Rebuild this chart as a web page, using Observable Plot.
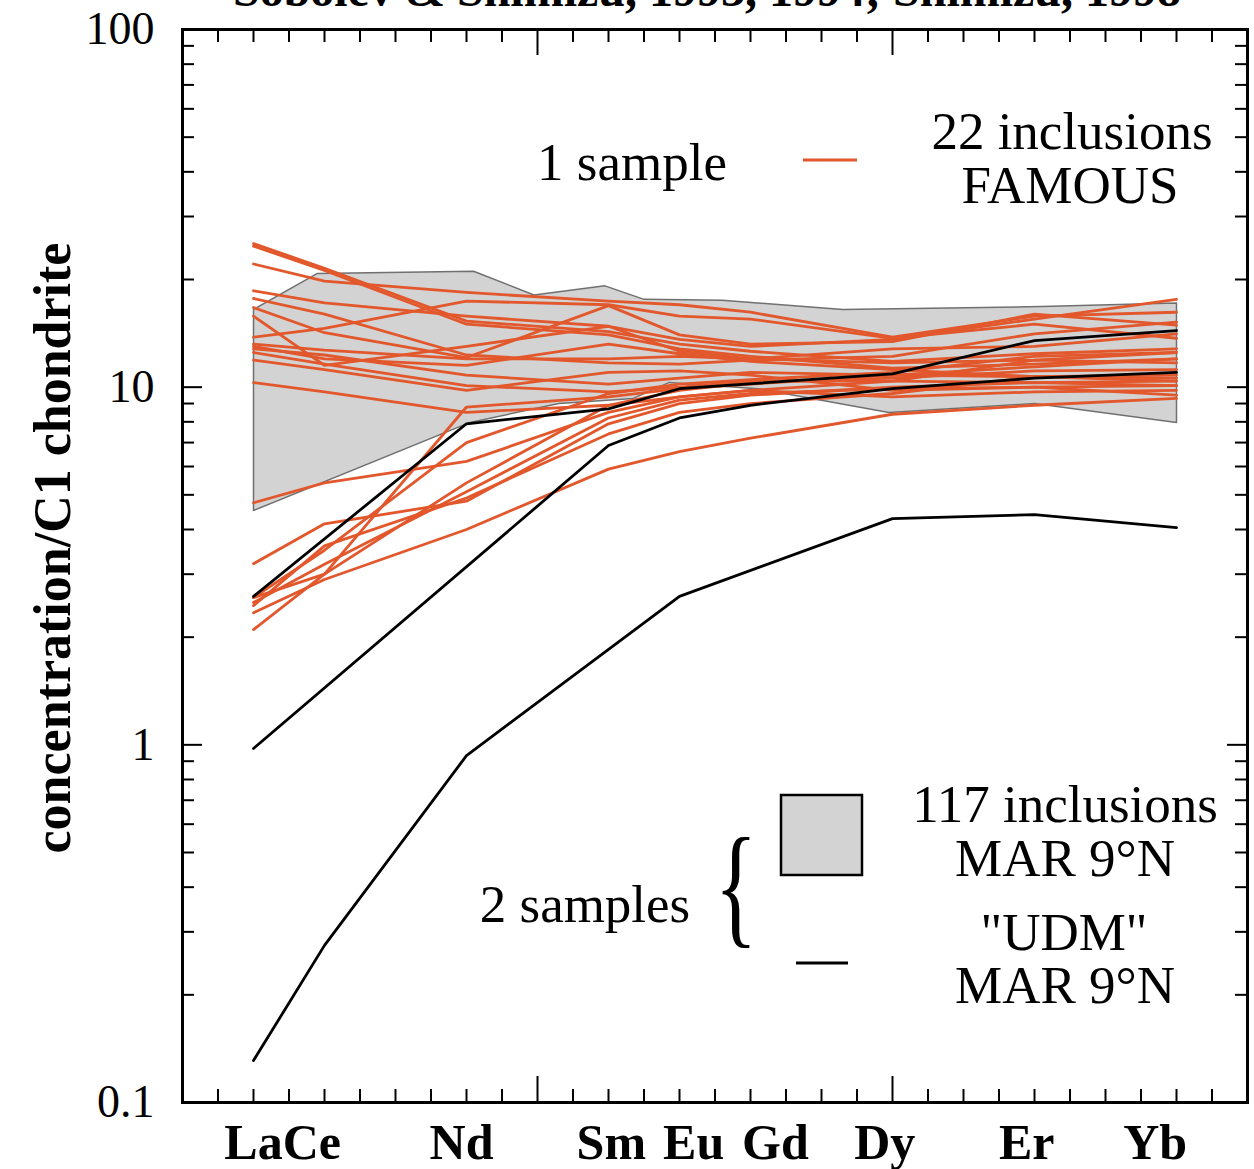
<!DOCTYPE html>
<html><head><meta charset="utf-8">
<script src="https://cdn.jsdelivr.net/npm/d3@7"></script>
<script src="https://cdn.jsdelivr.net/npm/@observablehq/plot@0.6"></script>
<style>
body{margin:0;background:#fff;}
#chart{position:relative;width:1254px;height:1169px;overflow:hidden;}
#chart svg{display:block;}
</style></head><body><div id="chart"></div>
<script>
// ---------- data ----------
const elements = ["La","Ce","Nd","Sm","Eu","Gd","Dy","Er","Yb"];
const atomicNumber = [57,58,60,62,63,64,66,68,70];

// FAMOUS melt inclusions (22), values at La..Yb
const famous = [
  [25.2, 21.5, 15.3, 14.3, 13.2, 12.6, 11.8, 12.4, 12.8],
  [24.8, 21.2, 15.0, 14.0, 12.8, 12.2, 11.3, 11.6, 12.0],
  [22.1, 19.8, 18.4, 17.4, 17.0, 16.2, 13.8, 15.8, 16.2],
  [18.6, 17.2, 15.8, 14.8, 13.6, 13.0, 13.6, 15.5, 17.6],
  [17.7, 16.0, 12.3, 11.7, 11.6, 11.9, 12.2, 14.1, 15.2],
  [16.7, 14.2, 12.1, 16.9, 14.0, 13.2, 13.4, 16.0, 14.9],
  [15.8, 11.5, 13.0, 14.8, 12.6, 12.0, 12.8, 13.0, 14.1],
  [13.8, 14.6, 17.4, 17.0, 15.8, 15.5, 13.7, 15.0, 13.7],
  [13.2, 12.7, 12.0, 12.0, 12.2, 12.0, 11.7, 11.9, 12.5],
  [13.0, 12.0, 11.5, 13.2, 12.4, 11.8, 11.2, 10.7, 10.8],
  [12.8, 12.3, 10.8, 10.2, 10.6, 11.0, 10.8, 11.4, 12.0],
  [12.5, 11.6, 10.1, 9.7, 10.0, 10.4, 10.4, 10.3, 10.4],
  [11.9, 11.2, 9.8, 11.0, 11.1, 10.8, 9.8, 10.0, 10.1],
  [10.3, 9.7, 8.5, 8.9, 9.4, 9.8, 9.4, 9.7, 9.8],
  [4.75, 5.4, 6.2, 8.5, 9.4, 9.8, 10.4, 11.9, 11.7],
  [3.21, 4.15, 4.8, 7.9, 9.0, 9.5, 10.0, 10.3, 10.1],
  [2.58, 3.5, 7.0, 9.6, 10.2, 10.5, 11.0, 12.2, 12.5],
  [2.58, 3.0, 5.4, 8.9, 9.8, 10.3, 10.6, 11.1, 11.2],
  [2.5, 3.2, 5.1, 8.2, 9.2, 9.6, 9.9, 10.0, 9.5],
  [2.45, 3.6, 4.9, 7.4, 8.5, 9.0, 9.6, 10.7, 10.6],
  [2.34, 2.9, 4.0, 5.9, 6.6, 7.2, 8.4, 8.9, 9.3],
  [2.10, 3.0, 8.8, 9.4, 9.9, 10.2, 10.8, 10.7, 10.4]
];

// "UDM" MAR 9°N (black lines); null = no vertex at that element
const udm = [
  [2.6, null, 7.9, 8.7, 9.9, null, 10.9, 13.5, 14.4],
  [0.977, null, null, 6.87, 8.2, 8.9, 9.9, 10.6, 11.0],
  [0.131, 0.275, 0.933, null, 2.6, null, 4.29, 4.40, 4.05]
];

// 117 inclusions MAR 9°N envelope
const marUpperX = [57, 57.9, 60.1, 60.95, 61.95, 62.5, 63.6, 65.3, 68.1, 70];
const marUpperY = [16.5, 20.8, 21.1, 18.1, 19.2, 17.6, 17.5, 16.5, 16.8, 17.2];
const marLowerX = [57, 60.05, 61.3, 62.35, 62.85, 64.1, 65.95, 68, 70];
const marLowerY = [4.52, 7.97, 9.0, 9.3, 10.3, 9.9, 8.5, 9.0, 7.97];

// axes
const yTickValues = [100, 10, 1, 0.1];
const yTickLabels = ["100", "10", "1", "0.1"];
const xTickLabels = ["LaCe", "Nd", "Sm", "Eu", "Gd", "Dy", "Er", "Yb"];
const xTickLabelPos = [57.41, 59.93, 62.04, 63.2, 64.35, 65.89, 67.89, 69.7];
const xMajorTicks = [61, 66];
const xMinorTicks = d3.range(56.5, 71, 0.5).filter(v => !xMajorTicks.includes(v));
const yMajorTicks = [1, 10];
const yMinorTicks = [0.1, 1, 10].flatMap(d => d3.range(2, 10).map(k => +(k * d).toPrecision(3)));

// ---------- build ----------
const orange = "#e2572b";
const serif = "'Liberation Serif', 'Times New Roman', serif";

function rowsFrom(series, prefix) {
  const out = [];
  series.forEach((vals, i) => vals.forEach((v, j) => {
    if (v != null) out.push({id: prefix + i, x: atomicNumber[j], y: v});
  }));
  return out;
}
const famousRows = rowsFrom(famous, "F");
const udmRows = rowsFrom(udm, "U");
const marPoly = [
  ...marUpperX.map((x, i) => ({x, y: marUpperY[i]})),
  ...marLowerX.map((x, i) => ({x, y: marLowerY[i]})).reverse()
];
marPoly.push(marPoly[0]);

const pxY = 357.7; // px per decade (for tick lengths)
const pxX = 71;    // px per unit
const upY = n => Math.pow(10, n / pxY);

const plot = Plot.plot({
  width: 1254, height: 1169,
  marginLeft: 182, marginRight: 7, marginTop: 29, marginBottom: 67,
  x: {domain: [56, 71], axis: null},
  y: {type: "log", domain: [0.1, 100], axis: null},
  style: {fontFamily: serif, background: "white", color: "black"},
  marks: [
    Plot.line(marPoly, {x: "x", y: "y", fill: "#d3d3d3", stroke: "#707070", strokeWidth: 1.5}),
    Plot.line(famousRows, {x: "x", y: "y", z: "id", stroke: orange, strokeWidth: 2.8}),
    Plot.line(udmRows, {x: "x", y: "y", z: "id", stroke: "black", strokeWidth: 2.8}),
    // x ticks bottom & top
    Plot.ruleX(xMinorTicks, {x: d => d, y1: 0.1, y2: 0.1 * upY(13), stroke: "black", strokeWidth: 2}),
    Plot.ruleX(xMinorTicks, {x: d => d, y1: 100, y2: 100 / upY(13), stroke: "black", strokeWidth: 2}),
    Plot.ruleX(xMajorTicks, {x: d => d, y1: 0.1, y2: 0.1 * upY(26), stroke: "black", strokeWidth: 2}),
    Plot.ruleX(xMajorTicks, {x: d => d, y1: 100, y2: 100 / upY(26), stroke: "black", strokeWidth: 2}),
    // y ticks left & right
    Plot.ruleY(yMinorTicks, {y: d => d, x1: 56, x2: 56 + 12 / pxX, stroke: "black", strokeWidth: 2}),
    Plot.ruleY(yMinorTicks, {y: d => d, x1: 71, x2: 71 - 12 / pxX, stroke: "black", strokeWidth: 2}),
    Plot.ruleY(yMajorTicks, {y: d => d, x1: 56, x2: 56 + 20 / pxX, stroke: "black", strokeWidth: 2}),
    Plot.ruleY(yMajorTicks, {y: d => d, x1: 71, x2: 71 - 20 / pxX, stroke: "black", strokeWidth: 2}),
    Plot.frame({stroke: "black", strokeWidth: 3}),
    // tick labels
    Plot.text(yTickValues, {x: 56, y: d => d, text: (d, i) => yTickLabels[i], dx: -28, textAnchor: "end",
      fontSize: 46, fill: "black"}),
    Plot.text(xTickLabels, {x: (d, i) => xTickLabelPos[i], y: 0.1, text: d => d, dy: 40,
      fontSize: 50, fontWeight: "bold", fill: "black"}),
    Plot.text(["concentration/C1 chondrite"], {frameAnchor: "left", text: d => d, rotate: -90,
      textAnchor: "middle", dx: -129, dy: -18, fontSize: 52, fontWeight: "bold", fill: "black"})
  ]
});
document.getElementById("chart").appendChild(plot);

// ---------- title & legend ----------
const svg = d3.select(plot);
const T = (x, y, s, opts = {}) => svg.append("text").attr("x", x).attr("y", y)
  .attr("text-anchor", opts.anchor || "middle").attr("font-family", serif)
  .attr("font-size", opts.size || 53).attr("font-weight", opts.weight || "normal")
  .attr("fill", "black").text(s);

T(707, 6, "Sobolev & Shimizu, 1993, 1994; Shimizu, 1998", {size: 48, weight: "bold"});

T(632, 180, "1 sample");
svg.append("line").attr("x1", 803).attr("x2", 857).attr("y1", 160).attr("y2", 160)
  .attr("stroke", orange).attr("stroke-width", 2.8);
T(1072, 149, "22 inclusions");
T(1070, 203, "FAMOUS");

svg.append("rect").attr("x", 781).attr("y", 795).attr("width", 81).attr("height", 80)
  .attr("fill", "#d3d3d3").attr("stroke", "black").attr("stroke-width", 2.5);
T(1065, 822, "117 inclusions");
T(1065, 876, "MAR 9°N");
T(1064, 950, "\"UDM\"");
T(1065, 1003, "MAR 9°N");
svg.append("line").attr("x1", 796).attr("x2", 848).attr("y1", 963).attr("y2", 963)
  .attr("stroke", "black").attr("stroke-width", 2.8);
T(585, 922, "2 samples");
svg.append("text").attr("transform", "translate(736,930) scale(0.7,1.05)")
  .attr("text-anchor", "middle").attr("font-family", serif).attr("font-size", 128)
  .attr("fill", "black").text("{");
</script></body></html>
